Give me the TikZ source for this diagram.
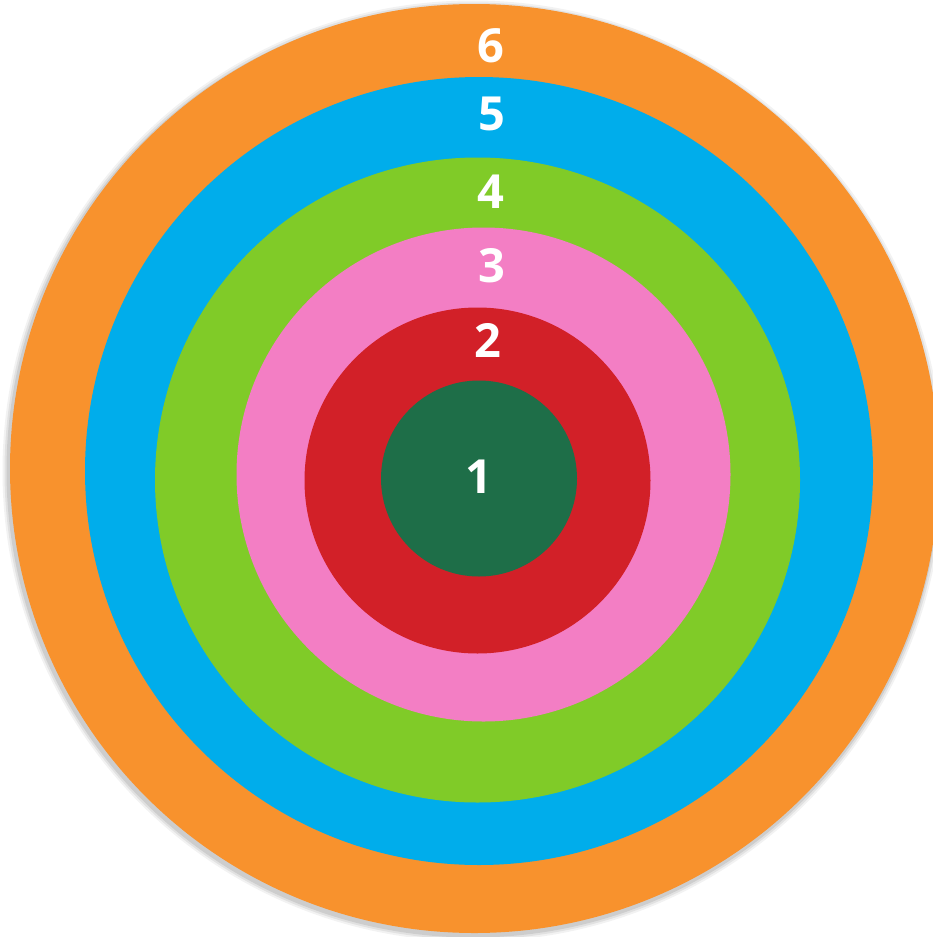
\documentclass[tikz,border=0pt]{standalone}
\usepackage{fontspec}
\setmainfont{Open Sans}
\usepackage{tikz}
\usetikzlibrary{positioning}

\definecolor{ringorange}{RGB}{248,146,45}
\definecolor{ringblue}{RGB}{0,173,235}
\definecolor{ringgreen}{RGB}{128,203,40}
\definecolor{ringpink}{RGB}{243,126,196}
\definecolor{ringred}{RGB}{210,32,40}
\definecolor{ringdark}{RGB}{30,110,72}

\tikzset{
  ring/.style={circle, inner sep=0pt, draw=none},
  num/.style={text=white, font=\fontsize{47}{47}\selectfont\bfseries, inner sep=0pt}
}

\begin{document}
\begin{tikzpicture}[x=1pt, y=-1pt]
\useasboundingbox (0,0) rectangle (932,937);

% soft shadow under the outer disc
\foreach \s/\o in {6/0.05,4/0.07,2/0.09}
  \fill[black, opacity=\o] (473,471) circle (464.5+\s);

\node (ring6) at (474.5,468.5) [ring, fill=ringorange, minimum size=929pt] {};
\node (ring5) at (479,471) [ring, fill=ringblue, minimum size=788pt] {};
\node (ring4) at (477.5,480) [ring, fill=ringgreen, minimum size=645pt] {};
\node (ring3) at (483.5,474.5) [ring, fill=ringpink, minimum size=494pt] {};
\node (ring2) at (477.5,480.5) [ring, fill=ringred, minimum size=346pt] {};
\node (ring1) at (479,478.5) [ring, fill=ringdark, minimum size=196pt] {};

\node (lab6) at (491,46) [num] {6};
\node (lab5) at (492,114) [num] {5};
\node (lab4) at (491,192) [num] {4};
\node (lab3) at (492,266) [num] {3};
\node (lab2) at (488,340) [num] {2};
\node (lab1) at (479,477) [num] {1};
\end{tikzpicture}
\end{document}
